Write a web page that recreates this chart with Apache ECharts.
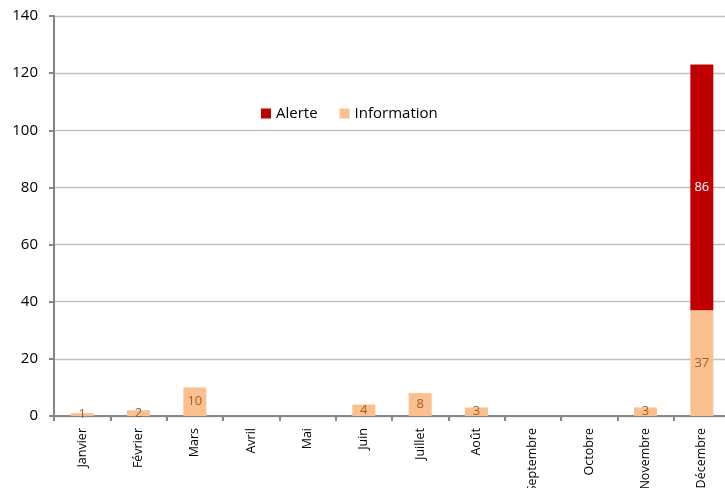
<!DOCTYPE html>
<html>
<head>
<meta charset="utf-8">
<script src="https://cdn.jsdelivr.net/npm/echarts@6/dist/echarts.min.js"></script>
<style>html,body{margin:0;padding:0;background:#fff;}#c{width:725px;height:488px;}</style>
</head>
<body>
<div id="c"></div>
<script>
var categories = ['Janvier','Février','Mars','Avril','Mai','Juin','Juillet','Août','Septembre','Octobre','Novembre','Décembre'];
var information = [1, 2, 10, 0, 0, 4, 8, 3, 0, 0, 3, 37];
var alerte = [0, 0, 0, 0, 0, 0, 0, 0, 0, 0, 0, 86];
var yTicks = [0, 20, 40, 60, 80, 100, 120, 140];

var chart = echarts.init(document.getElementById('c'), null, {renderer: 'canvas'});
var font = 'Open Sans';
function hideZero(p){ return p.value === 0 ? '' : String(p.value); }
chart.setOption({
  animation: false,
  textStyle: {fontFamily: font},
  grid: {left: 54, top: 16, width: 676, height: 400, containLabel: false, outerBoundsMode: 'none'},
  legend: {
    data: ['Alerte', 'Information'],
    left: 261, top: 106, padding: 0,
    itemWidth: 10, itemHeight: 10, itemGap: 22,
    icon: 'rect',
    textStyle: {fontFamily: font, fontSize: 15, color: '#000'}
  },
  xAxis: {
    type: 'category',
    data: categories,
    axisLine: {lineStyle: {color: '#868686', width: 2}},
    axisTick: {show: true, length: 5, lineStyle: {color: '#868686', width: 2}},
    axisLabel: {rotate: 90, margin: 12, fontFamily: font, fontSize: 12.5, color: '#000', interval: 0}
  },
  yAxis: {
    type: 'value',
    min: yTicks[0], max: yTicks[yTicks.length - 1], interval: 20,
    axisLine: {show: true, lineStyle: {color: '#868686', width: 2}},
    axisTick: {show: true, length: 5, lineStyle: {color: '#868686', width: 2}},
    axisLabel: {margin: 16, fontFamily: font, fontSize: 15, color: '#000'},
    splitLine: {lineStyle: {color: '#c0c0c0', width: 1.3}}
  },
  series: [
    {
      name: 'Information', type: 'bar', stack: 'total', barWidth: 23,
      data: information,
      itemStyle: {color: '#FAC090'},
      label: {show: true, position: 'inside', formatter: hideZero, color: '#a65a1e', fontFamily: font, fontSize: 13}
    },
    {
      name: 'Alerte', type: 'bar', stack: 'total', barWidth: 23,
      data: alerte,
      itemStyle: {color: '#C00000'},
      label: {show: true, position: 'inside', formatter: hideZero, color: '#fff', fontFamily: font, fontSize: 13}
    }
  ]
});
</script>
</body>
</html>
